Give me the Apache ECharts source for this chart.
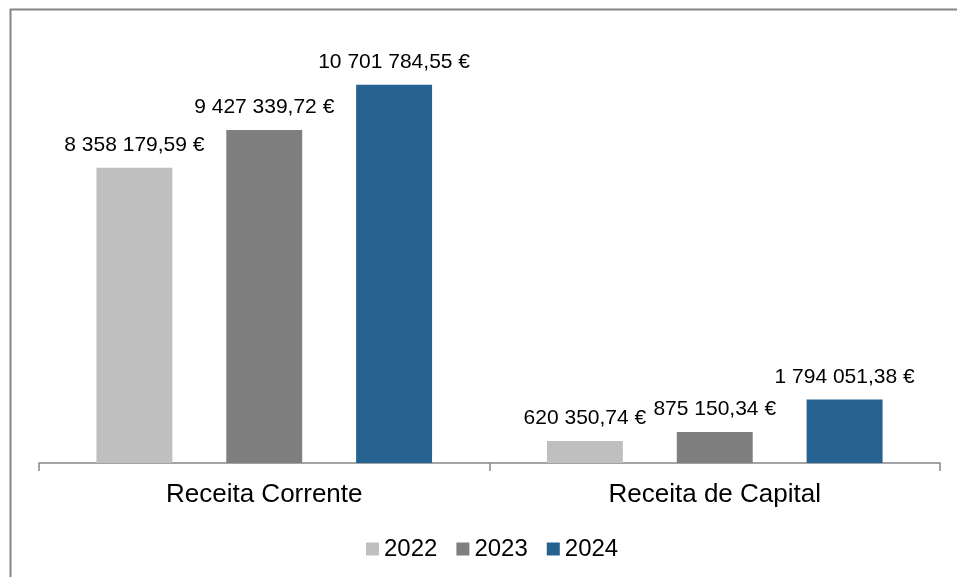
<!DOCTYPE html>
<html lang="pt">
<head>
    <meta charset="UTF-8">
    <title>Receitas</title>
    <script src="https://cdn.jsdelivr.net/npm/echarts@6/dist/echarts.min.js"></script>
    <style>
        html, body { margin: 0; padding: 0; background: #fff; }
        #main { width: 957px; height: 577px; }
    </style>
</head>
<body>
<div id="main"></div>
<script type="text/javascript">
    var categories = ['Receita Corrente', 'Receita de Capital'];
    var years = ['2022', '2023', '2024'];
    var values2022 = [8358179.59, 620350.74];
    var values2023 = [9427339.72, 875150.34];
    var values2024 = [10701784.55, 1794051.38];
    var colors = ['#BFBFBF', '#7F7F7F', '#26628F'];

    function euro(v) {
        var parts = v.toFixed(2).split('.');
        var intPart = parts[0].replace(/\B(?=(\d{3})+(?!\d))/g, ' ');
        return intPart + ',' + parts[1] + ' €';
    }

    var font = 'Liberation Sans, Arial, sans-serif';

    function makeSeries(name, data, color) {
        return {
            name: name,
            type: 'bar',
            data: data,
            barGap: '71%',
            barCategoryGap: '25.5%',
            itemStyle: { color: color },
            label: {
                show: true,
                position: 'top',
                distance: 12,
                color: '#000',
                fontFamily: font,
                fontSize: 21,
                formatter: function (p) { return euro(p.value); }
            }
        };
    }

    var chartDom = document.getElementById('main');
    var myChart = echarts.init(chartDom);
    var option = {
        animation: false,
        graphic: [{
            type: 'rect',
            shape: { x: 10.5, y: 9.5, width: 960, height: 580 },
            style: { fill: 'none', stroke: '#868686', lineWidth: 2 },
            silent: true
        }],
        legend: {
            top: 537,
            left: 366,
            padding: 0,
            icon: 'rect',
            itemWidth: 13,
            itemHeight: 13,
            itemGap: 19,
            textStyle: { fontFamily: font, fontSize: 24, color: '#000' },
            data: years
        },
        grid: { left: 39, right: 17, top: 39, bottom: 114 },
        xAxis: {
            type: 'category',
            data: categories,
            axisLine: { lineStyle: { color: '#868686', width: 1.5 } },
            axisTick: { show: true, length: 8, lineStyle: { color: '#868686', width: 1.5 } },
            axisLabel: { color: '#000', fontFamily: font, fontSize: 26, margin: 19 }
        },
        yAxis: {
            type: 'value',
            min: 0,
            max: 12000000,
            show: false,
            splitLine: { show: false }
        },
        series: [
            makeSeries(years[0], values2022, colors[0]),
            makeSeries(years[1], values2023, colors[1]),
            makeSeries(years[2], values2024, colors[2])
        ]
    };

    option && myChart.setOption(option);
</script>
</body>
</html>
